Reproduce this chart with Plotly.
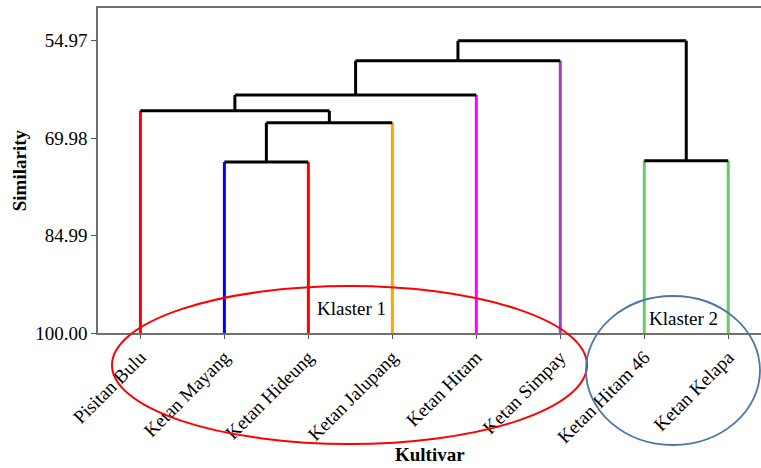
import plotly.graph_objects as go

# ---- data ----
leaf_names = ["Pisitan Bulu", "Ketan Mayang", "Ketan Hideung", "Ketan Jalupang",
              "Ketan Hitam", "Ketan Simpay", "Ketan Hitam 46", "Ketan Kelapa"]
leaf_colors = ["#FF0000", "#0000FF", "#FF0000", "#FFA500",
               "#FF00FF", "#9B3FD0", "#66CC66", "#66CC66"]
# merges: (child_a, child_b, similarity); indices >= 8 refer to earlier merges
merge_a = [1, 8, 0, 10, 11, 6, 12]
merge_b = [2, 3, 9, 4, 5, 7, 13]
merge_sim = [73.65, 67.60, 65.75, 63.33, 58.04, 73.45, 54.97]
y_tickvals = [54.97, 69.98, 84.99, 100.00]
y_ticktext = ["54.97", "69.98", "84.99", "100.00"]

FONT = "Liberation Serif, Times New Roman, serif"
n = len(leaf_names)

fig = go.Figure()

pos = {i: float(i) for i in range(n)}
hgt = {i: 100.0 for i in range(n)}

def add_line(xs, ys, color):
    fig.add_trace(go.Scatter(x=xs, y=ys, mode="lines",
                             line=dict(color=color, width=3),
                             hoverinfo="skip", showlegend=False))

for k, (a, b, s) in enumerate(zip(merge_a, merge_b, merge_sim)):
    node = n + k
    for c in (a, b):
        col = leaf_colors[c] if c < n else "black"
        add_line([pos[c], pos[c]], [hgt[c], s], col)
    add_line([pos[a], pos[b]], [s, s], "black")
    pos[node] = (pos[a] + pos[b]) / 2
    hgt[node] = s

fig.update_layout(
    width=761, height=468,
    margin=dict(l=98, r=0, t=8, b=135),
    paper_bgcolor="white", plot_bgcolor="white",
    font=dict(family=FONT, size=19, color="black"),
    xaxis=dict(range=[-0.505, 7.39], tickmode="array",
               tickvals=list(range(n)), ticktext=leaf_names,
               tickangle=-45, ticks="outside", ticklen=4, tickcolor="#555",
               showline=True, linecolor="#707070", linewidth=1.5, mirror=True,
               showgrid=False, zeroline=False,
               tickfont=dict(family=FONT, size=19, color="black")),
    yaxis=dict(range=[100, 49.92], tickmode="array",
               tickvals=y_tickvals, ticktext=y_ticktext,
               ticks="outside", ticklen=5, tickcolor="#555",
               showline=True, linecolor="#707070", linewidth=1.5, mirror=False,
               showgrid=False, zeroline=False,
               tickfont=dict(family=FONT, size=19, color="black")),
    shapes=[
        dict(type="circle", xref="paper", yref="paper",
             x0=0.0211, x1=0.7376, y0=-0.3415, y1=0.1446,
             line=dict(color="#FF0000", width=2), layer="above"),
        dict(type="circle", xref="paper", yref="paper",
             x0=0.736, x1=0.9985, y0=-0.3446, y1=0.1138,
             line=dict(color="#4A76A8", width=1.8), layer="above"),
    ],
    annotations=[
        dict(text="Klaster 1", xref="paper", yref="paper", x=0.3816, y=0.0769,
             xanchor="center", yanchor="middle",
             showarrow=False, font=dict(family=FONT, size=19)),
        dict(text="Klaster 2", xref="paper", yref="paper", x=0.883, y=0.046,
             xanchor="center", yanchor="middle",
             showarrow=False, font=dict(family=FONT, size=19)),
        dict(text="<b>Kultivar</b>", xref="paper", yref="paper", x=0.5, y=-0.373,
             xanchor="center", yanchor="middle",
             showarrow=False, font=dict(family=FONT, size=19)),
        dict(text="<b>Similarity</b>", xref="paper", yref="paper", x=-0.118, y=0.5,
             xanchor="center", yanchor="middle",
             textangle=-90, showarrow=False, font=dict(family=FONT, size=19)),
    ],
)

fig.write_html("out.html", config={"displayModeBar": False},
               post_script="document.body.style.margin='0';")
